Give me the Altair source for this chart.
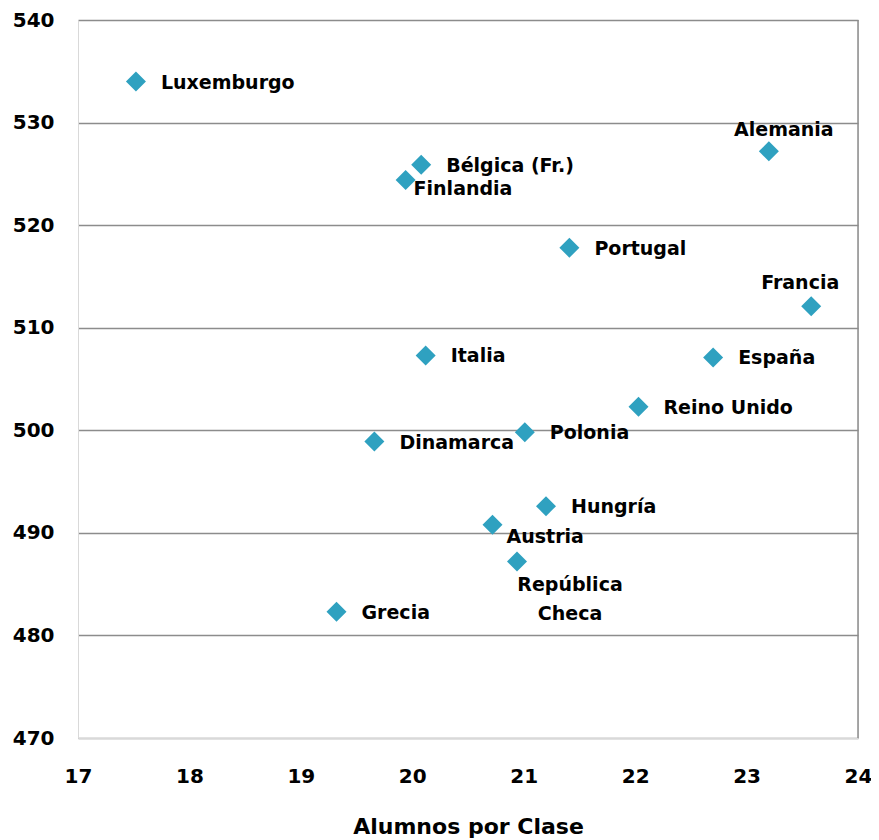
import altair as alt
import pandas as pd

paises = ["Luxemburgo", "Bélgica (Fr.)", "Finlandia", "Alemania", "Portugal", "Francia",
          "Italia", "España", "Reino Unido", "Polonia", "Dinamarca", "Hungría",
          "Austria", "República Checa", "Grecia"]
alumnos = [17.52, 20.08, 19.94, 23.20, 21.41, 23.58, 20.12, 22.70, 22.03, 21.01, 19.66,
           21.20, 20.72, 20.94, 19.32]
puntuacion = [534.0, 525.9, 524.4, 527.2, 517.8, 512.1, 507.3, 507.1, 502.3, 499.8, 498.9,
              492.6, 490.8, 487.2, 482.3]
x_ticks = [17, 18, 19, 20, 21, 22, 23, 24]
y_ticks = [470, 480, 490, 500, 510, 520, 530, 540]

df = pd.DataFrame({"pais": paises, "alumnos": alumnos, "puntuacion": puntuacion})

FONT = "DejaVu Sans"
COLOR = "#2fa1c0"

xs = alt.X("alumnos:Q", scale=alt.Scale(domain=[17, 24], nice=False),
           axis=alt.Axis(values=x_ticks, format="d", title="Alumnos por Clase", grid=False,
                         ticks=False, domain=True, domainColor="#d9d9d9", labelPadding=28,
                         labelFontSize=20, labelFontWeight="bold", labelColor="black",
                         titleFontSize=22, titleFontWeight="bold", titleColor="black",
                         titlePadding=30, labelFont=FONT, titleFont=FONT,
                         labelFlush=False))
ys = alt.Y("puntuacion:Q", scale=alt.Scale(domain=[470, 540], nice=False),
           axis=alt.Axis(values=y_ticks, format="d", title=None, grid=True, gridColor="#8c8c8c",
                         gridWidth=1.5, ticks=False, domain=True, domainColor="#d9d9d9",
                         labelPadding=24, labelFontSize=20, labelFontWeight="bold",
                         labelColor="black", labelFont=FONT, labelFlush=False))

base = alt.Chart(df)

right_edge = alt.Chart(pd.DataFrame({"v": [24]})).mark_rule(color="#8c8c8c", strokeWidth=1.5).encode(
    x=alt.X("v:Q", scale=alt.Scale(domain=[17, 24], nice=False))
)

points = base.mark_point(shape="diamond", filled=True, size=400, color=COLOR, opacity=1).encode(
    x=xs, y=ys
)

LABEL_SIZE = 19

def labels(names, dx, dy, align="left"):
    return base.transform_filter(
        alt.FieldOneOfPredicate(field="pais", oneOf=names)
    ).mark_text(font=FONT, fontSize=LABEL_SIZE, fontWeight="bold", color="black",
                align=align, baseline="middle", dx=dx, dy=dy).encode(
        x="alumnos:Q", y="puntuacion:Q", text="pais:N")

lab_right = labels(["Luxemburgo", "Bélgica (Fr.)", "Portugal", "Italia", "España",
                    "Reino Unido", "Polonia", "Dinamarca", "Hungría", "Grecia"], 25, 1)
lab_fin = labels(["Finlandia"], 8, 9)
lab_aus = labels(["Austria"], 14, 12)
lab_ale = labels(["Alemania"], 15, -21, align="center")
lab_fra = labels(["Francia"], -11, -23, align="center")
lab_rep = base.transform_filter(alt.datum.pais == "República Checa").transform_calculate(
    t="['República', 'Checa']"
).mark_text(font=FONT, fontSize=LABEL_SIZE, fontWeight="bold", color="black", align="center",
            baseline="middle", dx=53, dy=23, lineHeight=29).encode(
    x="alumnos:Q", y="puntuacion:Q", text="t:N"
)

chart = alt.layer(right_edge, points, lab_right, lab_fin, lab_aus, lab_ale, lab_fra, lab_rep).properties(
    width=780, height=718,
    autosize=alt.AutoSizeParams(type="none"),
    padding={"left": 70, "top": 12, "right": 13, "bottom": 100},
).configure_view(stroke=None).configure(background="white")

chart.save("out.html", embed_options={"renderer": "svg", "actions": False})
